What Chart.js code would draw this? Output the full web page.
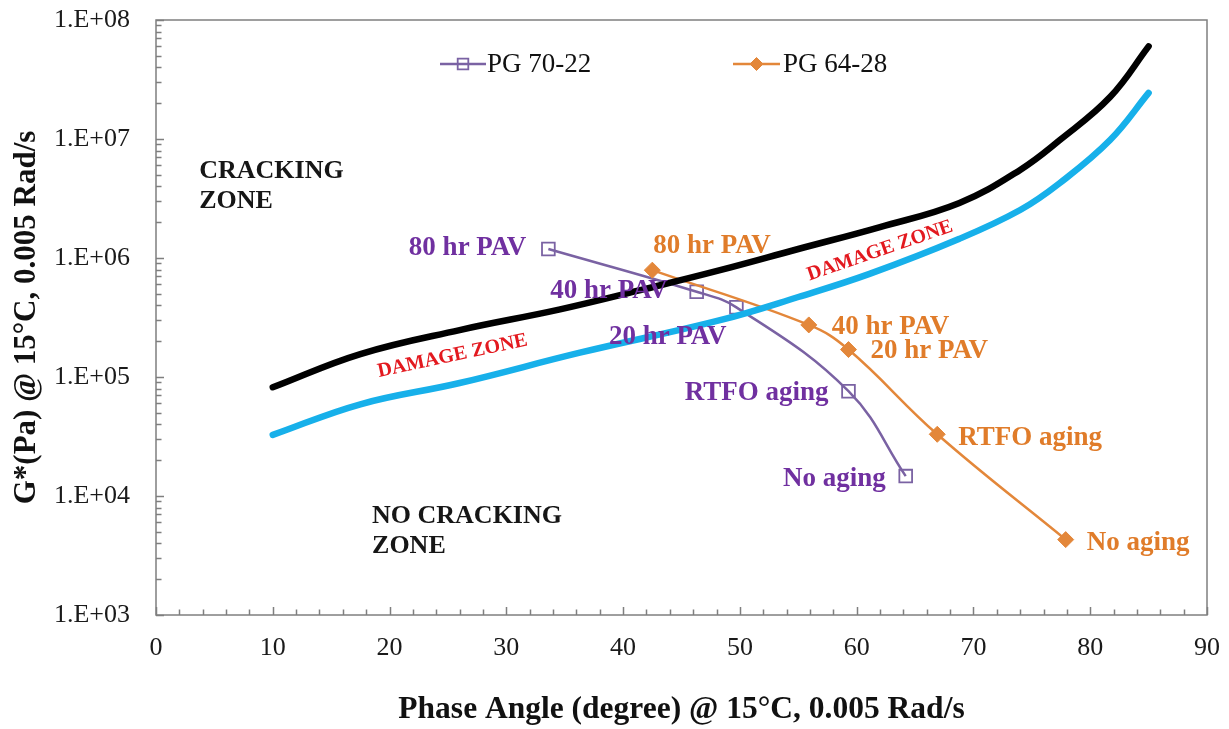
<!DOCTYPE html>
<html>
<head>
<meta charset="utf-8">
<script src="https://cdn.jsdelivr.net/npm/chart.js@4.4.0/dist/chart.umd.min.js"></script>
<style>
  html, body { margin: 0; padding: 0; background: #ffffff; }
  #wrap { width: 1229px; height: 729px; position: relative; }
</style>
</head>
<body>
<div id="wrap"><canvas id="chart" width="1229" height="729"></canvas></div>
<script>
// Phase angle (degree) and |G*| (Pa) at 15 °C, 0.005 rad/s, by aging stage
const agingStages = ['80 hr PAV', '40 hr PAV', '20 hr PAV', 'RTFO aging', 'No aging'];
const pg7022Phase = [33.6, 46.3, 49.7, 59.3, 64.2];
const pg7022G     = [1.19e6, 5.2e5, 3.85e5, 7.6e4, 1.47e4];
const pg6428Phase = [42.5, 55.9, 59.3, 66.9, 77.9];
const pg6428G     = [7.9e5, 2.74e5, 1.7e5, 3.3e4, 4.3e3];

// Upper and lower boundaries of the damage zone
const upperPhase = [10, 17.5, 26.0, 34.6, 41.9, 48.3, 55.0, 62.0, 68.8, 74.0, 77.4, 81.7, 85.0];
const upperG     = [8.2e4, 1.56e5, 2.48e5, 3.7e5, 5.5e5, 7.9e5, 1.19e6, 1.82e6, 2.9e6, 5.5e6, 9.8e6, 2.25e7, 6.0e7];
const lowerPhase = [10, 17.5, 26.0, 36.3, 48.3, 55.0, 61.1, 68.8, 74.0, 77.4, 81.7, 85.0];
const lowerG     = [3.26e4, 5.9e4, 8.9e4, 1.6e5, 3.0e5, 4.7e5, 7.35e5, 1.45e6, 2.53e6, 4.27e6, 9.8e6, 2.44e7];

// Axis ticks
const xMajorTicks = [0, 10, 20, 30, 40, 50, 60, 70, 80, 90];
const xMinorStep = 2;
const yMajorTicks = [1e3, 1e4, 1e5, 1e6, 1e7, 1e8];

const SERIF = '"Liberation Serif", "Times New Roman", Times, serif';
const PURPLE_LINE = '#7a62a3';
const PURPLE_TEXT = '#7030a0';
const ORANGE_LINE = '#e3873a';
const ORANGE_TEXT = '#e07c2a';

const toXY = (xs, ys) => xs.map((x, i) => ({ x: x, y: ys[i] }));

function isMajorY(v) {
  return yMajorTicks.some(m => Math.abs(v / m - 1) < 1e-9);
}

// label placement next to each marker: [dx, dy, align]
const pg7022LabelPlacement = [[-22, -1, 'right'], [-29, -1, 'right'], [-10, 30, 'right'], [-20, 2, 'right'], [-20, 3, 'right']];
const pg6428LabelPlacement = [[1, -24, 'left'], [23, 2, 'left'], [22, 1, 'left'], [21, 4, 'left'], [21, 3, 'left']];

function drawText(ctx, text, x, y, opts) {
  ctx.save();
  ctx.translate(x, y);
  if (opts.rotate) ctx.rotate(opts.rotate * Math.PI / 180);
  ctx.font = opts.font;
  ctx.fillStyle = opts.color;
  ctx.textAlign = opts.align || 'left';
  ctx.textBaseline = 'middle';
  ctx.fillText(text, 0, 0);
  ctx.restore();
}

function noEdgePadding(scale) {
  scale.paddingTop = 0;
  scale.paddingBottom = 0;
  scale.paddingLeft = 0;
  scale.paddingRight = 0;
}

// Plot frame and inward tick marks
const frameAndTicks = {
  id: 'frameAndTicks',
  afterDatasetsDraw(chart) {
    const { ctx, chartArea: a, scales: { x, y } } = chart;
    ctx.save();
    ctx.strokeStyle = '#7f7f7f';
    ctx.lineWidth = 1.5;
    ctx.beginPath();
    x.ticks.forEach(t => {
      const px = Math.round(x.getPixelForValue(t.value)) + 0.5;
      const len = xMajorTicks.includes(t.value) ? 8 : 5.5;
      ctx.moveTo(px, a.bottom);
      ctx.lineTo(px, a.bottom - len);
    });
    y.ticks.forEach(t => {
      const py = Math.round(y.getPixelForValue(t.value)) + 0.5;
      const len = isMajorY(t.value) ? 8 : 5.5;
      ctx.moveTo(a.left, py);
      ctx.lineTo(a.left + len, py);
    });
    ctx.stroke();
    ctx.strokeRect(a.left, a.top, a.right - a.left, a.bottom - a.top);
    ctx.restore();
  }
};

// Zone names, aging-stage labels and the legend
const annotations = {
  id: 'annotations',
  afterDatasetsDraw(chart) {
    const { ctx, scales: { x, y } } = chart;
    const zoneFont = 'bold 26px ' + SERIF;
    const X = v => x.getPixelForValue(v);
    const Y = v => y.getPixelForValue(v);

    drawText(ctx, 'CRACKING', X(3.7), Y(5.4e6), { font: zoneFont, color: '#161616' });
    drawText(ctx, 'ZONE', X(3.7), Y(5.4e6) + 30, { font: zoneFont, color: '#161616' });
    drawText(ctx, 'NO CRACKING', X(18.5), Y(6.8e3), { font: zoneFont, color: '#161616' });
    drawText(ctx, 'ZONE', X(18.5), Y(6.8e3) + 30, { font: zoneFont, color: '#161616' });

    const dmgFont = 'bold 20px ' + SERIF;
    drawText(ctx, 'DAMAGE ZONE', X(25.4), Y(1.5e5), { font: dmgFont, color: '#e3191f', align: 'center', rotate: -12 });
    drawText(ctx, 'DAMAGE ZONE', X(62.0), Y(1.15e6), { font: dmgFont, color: '#e3191f', align: 'center', rotate: -19 });

    const labelFont = 'bold 27px ' + SERIF;
    [[0, pg7022LabelPlacement, PURPLE_TEXT], [1, pg6428LabelPlacement, ORANGE_TEXT]].forEach(([di, place, color]) => {
      const meta = chart.getDatasetMeta(di);
      meta.data.forEach((pt, i) => {
        const [dx, dy, align] = place[i];
        drawText(ctx, agingStages[i], pt.x + dx, pt.y + dy, { font: labelFont, color: color, align: align });
      });
    });

    // legend
    const legendItems = [
      { ds: chart.data.datasets[0], x0: 440, x1: 486, text: 487 },
      { ds: chart.data.datasets[1], x0: 733, x1: 780, text: 783 }
    ];
    const ly = 64;
    legendItems.forEach(item => {
      const ds = item.ds;
      ctx.save();
      ctx.strokeStyle = ds.borderColor;
      ctx.lineWidth = ds.borderWidth;
      ctx.beginPath();
      ctx.moveTo(item.x0, ly);
      ctx.lineTo(item.x1, ly);
      ctx.stroke();
      ctx.fillStyle = ds.pointBackgroundColor;
      ctx.strokeStyle = ds.pointBorderColor;
      ctx.lineWidth = ds.pointBorderWidth;
      Chart.helpers.drawPoint(ctx, { pointStyle: ds.pointStyle, radius: ds.pointRadius - 1.5, borderWidth: ds.pointBorderWidth, rotation: 0 },
        (item.x0 + item.x1) / 2, ly);
      ctx.restore();
      drawText(ctx, ds.label, item.text, ly + 1, { font: '27px ' + SERIF, color: '#111111' });
    });
  }
};

new Chart(document.getElementById('chart'), {
  type: 'scatter',
  data: {
    datasets: [
      {
        label: 'PG 70-22',
        data: toXY(pg7022Phase, pg7022G),
        showLine: true,
        borderColor: PURPLE_LINE,
        borderWidth: 2.5,
        tension: 0.4,
        pointStyle: 'rect',
        pointRadius: 9,
        pointBorderWidth: 1.8,
        pointBorderColor: PURPLE_LINE,
        pointBackgroundColor: 'rgba(255,255,255,0)',
        order: 3
      },
      {
        label: 'PG 64-28',
        data: toXY(pg6428Phase, pg6428G),
        showLine: true,
        borderColor: ORANGE_LINE,
        borderWidth: 2.5,
        tension: 0.4,
        pointStyle: 'rectRot',
        pointRadius: 8,
        pointBorderWidth: 1,
        pointBorderColor: ORANGE_LINE,
        pointBackgroundColor: ORANGE_LINE,
        order: 2
      },
      {
        label: 'Upper boundary',
        data: toXY(upperPhase, upperG),
        showLine: true,
        borderColor: '#000000',
        borderWidth: 6.5,
        borderCapStyle: 'round',
        tension: 0.4,
        pointRadius: 0,
        order: 0
      },
      {
        label: 'Lower boundary',
        data: toXY(lowerPhase, lowerG),
        showLine: true,
        borderColor: '#17b0ea',
        borderWidth: 6.5,
        borderCapStyle: 'round',
        tension: 0.4,
        pointRadius: 0,
        order: 1
      }
    ]
  },
  options: {
    responsive: false,
    animation: false,
    events: [],
    layout: { padding: { top: 20, right: 22, left: 0, bottom: 0 } },
    plugins: { legend: { display: false }, tooltip: { enabled: false } },
    scales: {
      x: {
        type: 'linear',
        min: 0,
        max: 90,
        afterBuildTicks(scale) {
          const t = [];
          for (let v = xMajorTicks[0]; v <= xMajorTicks[xMajorTicks.length - 1]; v += xMinorStep) t.push({ value: v });
          scale.ticks = t;
        },
        afterFit(scale) { scale.height = 114; noEdgePadding(scale); },
        grid: { display: false, drawTicks: false },
        border: { display: false },
        ticks: {
          autoSkip: false,
          maxRotation: 0,
          padding: 18,
          color: '#1a1a1a',
          font: { family: SERIF, size: 26 },
          callback: v => (xMajorTicks.includes(v) ? String(v) : '')
        },
        title: {
          display: true,
          text: 'Phase Angle (degree) @ 15°C, 0.005 Rad/s',
          color: '#111111',
          font: { family: SERIF, size: 31.5, weight: 'bold', lineHeight: 1.1 },
          padding: { top: 0, bottom: 2 }
        }
      },
      y: {
        type: 'logarithmic',
        min: 1e3,
        max: 1e8,
        afterBuildTicks(scale) {
          const t = [];
          yMajorTicks.forEach((m, i) => {
            t.push({ value: m });
            if (i < yMajorTicks.length - 1) for (let k = 2; k <= 9; k++) t.push({ value: m * k });
          });
          scale.ticks = t;
        },
        afterFit(scale) { scale.width = 156; noEdgePadding(scale); },
        grid: { display: false, drawTicks: false },
        border: { display: false },
        ticks: {
          autoSkip: false,
          padding: 26,
          color: '#1a1a1a',
          font: { family: SERIF, size: 26 },
          callback: v => (isMajorY(v) ? '1.E+' + String(Math.round(Math.log10(v))).padStart(2, '0') : '')
        },
        title: {
          display: true,
          text: 'G*(Pa) @ 15°C, 0.005 Rad/s',
          color: '#111111',
          font: { family: SERIF, size: 31, weight: 'bold', lineHeight: 1.1 },
          padding: { top: 10, bottom: 0 }
        }
      }
    }
  },
  plugins: [frameAndTicks, annotations]
});
</script>
</body>
</html>
